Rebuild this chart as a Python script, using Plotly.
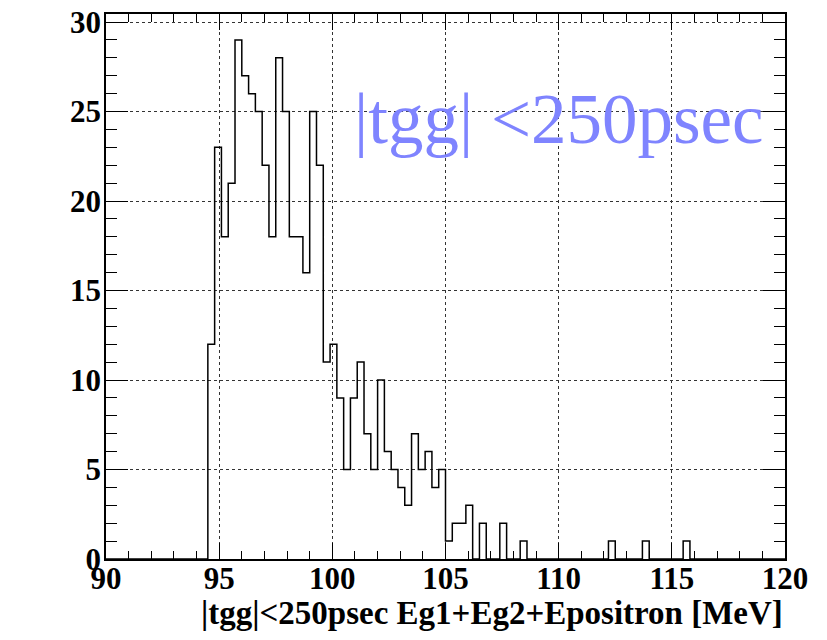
import plotly.graph_objects as go

# Histogram definition (ROOT-like: 100 bins, 90-120 MeV)
bin_low = 90.0
bin_width = 0.3
counts = [
    0, 0, 0, 0, 0, 0, 0, 0, 0, 0,
    0, 0, 0, 0, 0, 12, 23, 18, 21, 29,
    27, 26, 25, 22, 18, 28, 25, 18, 18, 16,
    25, 22, 11, 12, 9, 5, 9, 11, 7, 5,
    10, 6, 5, 4, 3, 7, 5, 6, 4, 5,
    1, 2, 2, 3, 0, 2, 0, 0, 2, 0,
    0, 1, 0, 0, 0, 0, 0, 0, 0, 0,
    0, 0, 0, 0, 1, 0, 0, 0, 0, 1,
    0, 0, 0, 0, 0, 1, 0, 0, 0, 0,
    0, 0, 0, 0, 0, 0, 0, 0, 0, 0,
]
x_ticks = [90, 95, 100, 105, 110, 115, 120]
y_ticks = [0, 5, 10, 15, 20, 25, 30]
x_title = "|tgg|<250psec Eg1+Eg2+Epositron [MeV]"
label_text = "|tgg| <250psec"

edges = [bin_low + bin_width * i for i in range(len(counts) + 1)]
ys = counts + [counts[-1]]

W, H = 827, 640
ML, MR, MT, MB = 106, 42, 14, 81
pw = W - ML - MR
ph = H - MT - MB

fig = go.Figure()
fig.add_trace(go.Scatter(
    x=edges, y=ys, mode="lines", line_shape="hv",
    line=dict(color="black", width=1.5), hoverinfo="skip", showlegend=False,
))

tickfont = dict(family="Liberation Serif", size=31, color="black")
fig.update_layout(
    width=W, height=H,
    margin=dict(l=ML, r=MR, t=MT, b=MB, autoexpand=False),
    paper_bgcolor="white", plot_bgcolor="white",
    showlegend=False,
    xaxis=dict(
        range=[90, 120], tickvals=x_ticks, ticktext=[f"<b>{v}</b>" for v in x_ticks],
        ticks="inside", ticklen=16, tickwidth=1, tickcolor="black",
        minor=dict(dtick=1, ticks="inside", ticklen=8, tickcolor="black", showgrid=False),
        showline=True, linecolor="black", linewidth=1.5, mirror="ticks",
        showgrid=True, gridcolor="#333333", griddash="dot", gridwidth=1,
        zeroline=False, tickfont=tickfont, automargin=False,
        ticklabelstandoff=-9,
    ),
    yaxis=dict(
        range=[0, 30.45], tickvals=y_ticks, ticktext=[f"<b>{v}</b>" for v in y_ticks],
        ticks="inside", ticklen=22, tickwidth=1, tickcolor="black",
        minor=dict(dtick=1, ticks="inside", ticklen=11, tickcolor="black", showgrid=False),
        showline=True, linecolor="black", linewidth=1.5, mirror="ticks",
        showgrid=True, gridcolor="#333333", griddash="dot", gridwidth=1,
        zeroline=False, tickfont=tickfont, automargin=False,
        ticklabelstandoff=-3,
    ),
)

# axis title (ROOT style: right-aligned under the axis)
fig.add_annotation(
    x=1.0, y=-(613 - (H - MB)) / ph, xref="paper", yref="paper",
    xanchor="right", yanchor="middle", showarrow=False,
    text=f"<b>{x_title}</b>",
    font=dict(family="Liberation Serif", size=33, color="black"),
)

fig.add_annotation(
    x=100.87, y=24.6, xref="x", yref="y", xanchor="left", yanchor="middle",
    text=label_text, showarrow=False,
    font=dict(family="Liberation Serif", size=71, color="#7f84ff"),
)

fig.write_html("out.html", config={"displayModeBar": False},
               post_script="document.body.style.margin='0';")
